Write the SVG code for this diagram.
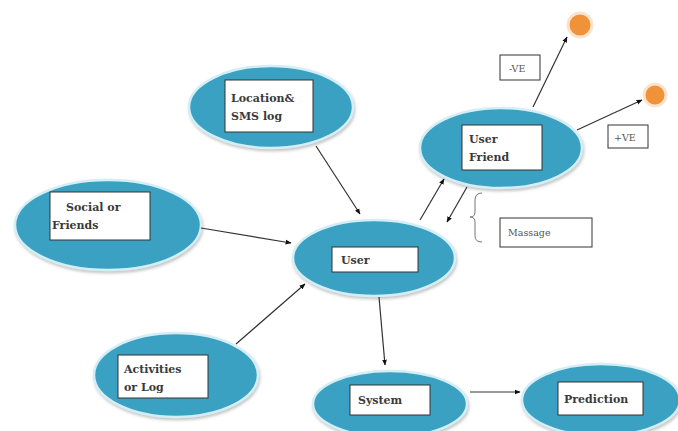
<svg xmlns="http://www.w3.org/2000/svg" width="678" height="431" viewBox="0 0 678 431">
<defs>
<marker id="ah" viewBox="0 0 10 10" refX="9" refY="5" markerWidth="5" markerHeight="5" orient="auto">
<path d="M0,1 L10,5 L0,9 z" fill="#111"/>
</marker>
<filter id="sh" x="-10%" y="-10%" width="130%" height="130%">
<feGaussianBlur in="SourceAlpha" stdDeviation="1.5"/>
<feOffset dx="1" dy="2" result="b"/>
<feFlood flood-color="#888" flood-opacity="0.5"/>
<feComposite in2="b" operator="in"/>
<feMerge><feMergeNode/><feMergeNode in="SourceGraphic"/></feMerge>
</filter>
</defs>
<style>
.ell{fill:#3aa1c2;stroke:#d4eef6;stroke-width:2.5;filter:url(#sh)}
.box{fill:#fff;stroke:#333;stroke-width:1}
.lbl{font-family:"DejaVu Serif","Liberation Serif",serif;font-weight:bold;font-size:11px;fill:#3a3a3a}
.sm{font-family:"DejaVu Serif","Liberation Serif",serif;font-size:9.5px;fill:#555}
.edge{stroke:#333;stroke-width:1.2;fill:none;marker-end:url(#ah)}
.dot{fill:#f0923a;stroke:#fbe3cc;stroke-width:3}
</style>
<rect width="678" height="431" fill="#fff"/>
<g id="location">
<ellipse class="ell" cx="271" cy="107" rx="82" ry="41"/>
<rect class="box" x="225" y="80" width="88" height="52"/>
<text class="lbl" x="231" y="102">Location&amp;</text>
<text class="lbl" x="231" y="120">SMS log</text>
</g>
<g id="social">
<ellipse class="ell" cx="108" cy="225" rx="93" ry="45"/>
<rect class="box" x="50" y="192" width="100" height="48"/>
<text class="lbl" x="66" y="211">Social or</text>
<text class="lbl" x="52" y="229">Friends</text>
</g>
<g id="user">
<ellipse class="ell" cx="374" cy="258" rx="81" ry="38"/>
<rect class="box" x="332" y="247" width="86" height="25"/>
<text class="lbl" x="341" y="264">User</text>
</g>
<g id="userfriend">
<ellipse class="ell" cx="501" cy="148" rx="81" ry="40"/>
<rect class="box" x="462" y="125" width="80" height="45"/>
<text class="lbl" x="469" y="143">User</text>
<text class="lbl" x="469" y="161">Friend</text>
</g>
<g id="activities">
<ellipse class="ell" cx="176" cy="375" rx="82" ry="42"/>
<rect class="box" x="118" y="355" width="90" height="43"/>
<text class="lbl" x="124" y="373">Activities</text>
<text class="lbl" x="124" y="391">or Log</text>
</g>
<g id="system">
<ellipse class="ell" cx="390" cy="404" rx="77" ry="33"/>
<rect class="box" x="350" y="385" width="80" height="30"/>
<text class="lbl" x="358" y="404">System</text>
</g>
<g id="prediction">
<ellipse class="ell" cx="601" cy="400" rx="79" ry="36"/>
<rect class="box" x="558" y="382" width="85" height="33"/>
<text class="lbl" x="564" y="403">Prediction</text>
</g>
<g id="neg">
<circle class="dot" cx="580" cy="25" r="12"/>
</g>
<g id="pos">
<circle class="dot" cx="655" cy="95" r="11"/>
</g>
<g id="labels">
<rect class="box" x="500" y="55" width="40" height="25"/>
<text class="sm" x="509" y="72">-VE</text>
<rect class="box" x="608" y="125" width="40" height="23"/>
<text class="sm" x="614" y="141">+VE</text>
<rect class="box" x="500" y="218" width="92" height="29"/>
<text class="sm" x="508" y="236">Massage</text>
<path d="M482,193 Q475,193 475,200 L475,212 Q475,217 470,217 Q475,217 475,222 L475,236 Q475,242 482,242" fill="none" stroke="#777" stroke-width="1"/>
</g>
<g id="connectors">
<line class="edge" x1="316" y1="146" x2="360" y2="214"/>
<line class="edge" x1="201" y1="228" x2="291" y2="243"/>
<line class="edge" x1="236" y1="344" x2="305" y2="284"/>
<line class="edge" x1="420" y1="220" x2="444" y2="179"/>
<line class="edge" x1="467" y1="187" x2="447" y2="222"/>
<line class="edge" x1="533" y1="107" x2="567" y2="37"/>
<line class="edge" x1="577" y1="130" x2="642" y2="100"/>
<line class="edge" x1="379" y1="297" x2="385" y2="365"/>
<line class="edge" x1="470" y1="392" x2="520" y2="392"/>
</g>
</svg>
